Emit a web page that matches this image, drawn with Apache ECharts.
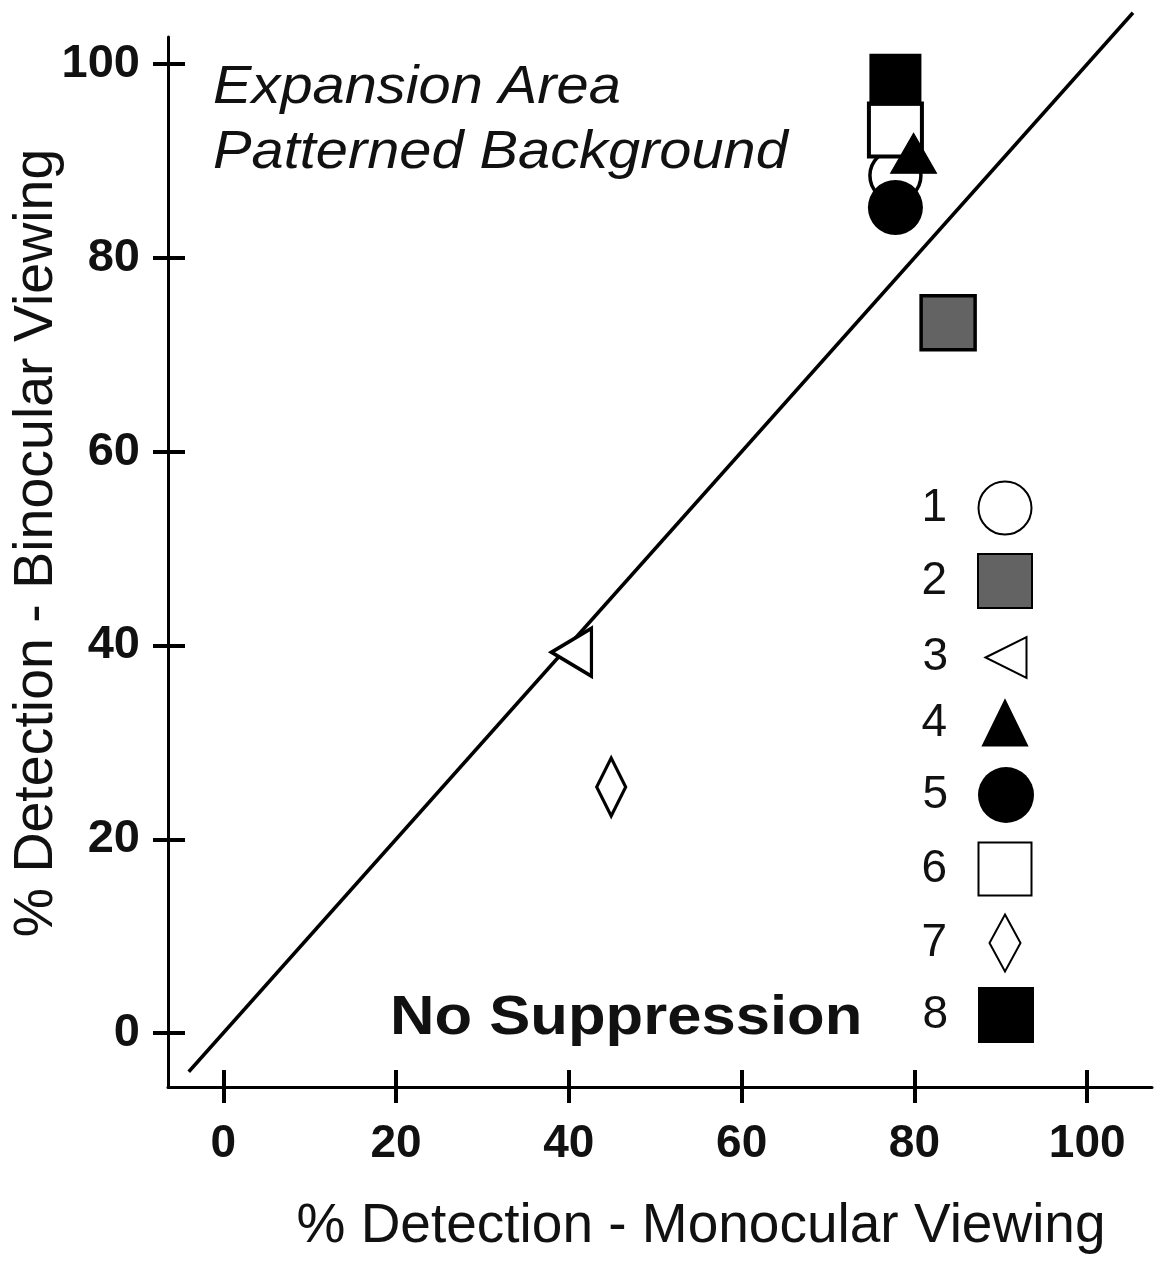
<!DOCTYPE html>
<html>
<head>
<meta charset="utf-8">
<title>% Detection - Binocular vs Monocular Viewing</title>
<script src="https://cdn.jsdelivr.net/npm/echarts@6/dist/echarts.min.js"></script>
<style>
  html, body { margin: 0; padding: 0; background: #fff; }
  #chart { width: 1157px; height: 1264px; }
</style>
</head>
<body>
<div id="chart"></div>
<script>
// Observers / conditions shown in the legend
const seriesNames = ['1', '2', '3', '4', '5', '6', '7', '8'];
// % detection, monocular viewing (x)
const monocular = [77.8, 83.9, 40.3, 79.9, 77.8, 77.8, 44.9, 77.8];
// % detection, binocular viewing (y)
const binocular = [88.5, 73.3, 39.3, 90.8, 85.2, 93.2, 25.4, 98.4];
// Axis tick values
const tickValues = [0, 20, 40, 60, 80, 100];
// Equality (no suppression) line end points
const diagonal = [[-4, -4], [105.3, 105.3]];

const FONT = '"Liberation Sans", Arial, Helvetica, sans-serif';
const INK = '#000';

// Marker style for each series
const markerStyles = [
  { symbol: 'circle', size: 51, fill: '#fff', border: 3.5, z: 2, legend: [53, 53] },
  { symbol: 'rect', size: 54, fill: '#636363', border: 3.5, z: 2, legend: [54, 54] },
  { symbol: 'path://M0,5L10,0L10,10Z', size: [40, 48], fill: '#fff', border: 3.5, z: 2, legend: [43, 41] },
  { symbol: 'triangle', size: [46, 40], fill: '#000', border: 1, z: 4, legend: [44, 45] },
  { symbol: 'circle', size: 55, fill: '#000', border: 0, z: 4, legend: [56, 56] },
  { symbol: 'rect', size: 53, fill: '#fff', border: 4, z: 3, legend: [53, 53] },
  { symbol: 'diamond', size: [29, 58], fill: '#fff', border: 3.5, z: 2, legend: [31, 57] },
  { symbol: 'rect', size: 52, fill: '#000', border: 0, z: 3, legend: [56, 56] }
];

// Legend row placement (icon centres, right edge of the number column)
const legendIconCenterX = 1006;
const legendTextRight = 948;
const legendRowCenters = [507, 580, 655, 722, 795, 868, 942, 1015];

const chart = echarts.init(document.getElementById('chart'), null, { renderer: 'canvas' });

const scatterSeries = seriesNames.map((name, i) => {
  const st = markerStyles[i];
  return {
    name: name,
    type: 'scatter',
    xAxisIndex: 0,
    yAxisIndex: 0,
    symbol: st.symbol,
    symbolSize: st.size,
    z: st.z,
    itemStyle: {
      color: st.fill,
      borderColor: INK,
      borderWidth: st.border,
      opacity: 1
    },
    emphasis: { disabled: true },
    data: [[monocular[i], binocular[i]]]
  };
});

const legends = seriesNames.map((name, i) => {
  const [w, h] = markerStyles[i].legend;
  const iconLeft = legendIconCenterX - w / 2;
  return {
    data: [name],
    orient: 'horizontal',
    align: 'right',
    selectedMode: false,
    padding: 5,
    itemWidth: w,
    itemHeight: h,
    right: 1157 - (legendIconCenterX + w / 2) - 5,
    top: legendRowCenters[i] - h / 2 - 5,
    textStyle: {
      fontFamily: FONT,
      fontSize: 46,
      color: '#111',
      lineHeight: 20,
      padding: [0, iconLeft - 5 - legendTextRight, 0, 0]
    }
  };
});

const xBase = {
  type: 'value',
  min: -6.4,
  max: 107.5,
  gridIndex: 0,
  splitLine: { show: false }
};
const yBase = {
  type: 'value',
  min: -5.57,
  max: 102.8,
  gridIndex: 0,
  splitLine: { show: false }
};

const option = {
  animation: false,
  backgroundColor: '#fff',
  legend: legends,
  grid: {
    left: 168, right: 5, top: 37, bottom: 177,
    containLabel: false,
    outerBoundsMode: 'none'
  },
  xAxis: [
    Object.assign({}, xBase, {
      position: 'bottom',
      name: '% Detection - Monocular Viewing',
      nameLocation: 'middle',
      nameGap: 112,
      nameTextStyle: { fontFamily: FONT, fontSize: 55, color: '#111', padding: [0, 0, 0, 82] },
      axisLine: { show: true, onZero: false, lineStyle: { color: INK, width: 3 } },
      axisTick: { show: true, inside: false, length: 16, customValues: tickValues, lineStyle: { color: INK, width: 4 } },
      axisLabel: {
        show: true, customValues: tickValues, margin: 34,
        fontFamily: FONT, fontSize: 46, fontWeight: 'bold', color: '#111'
      }
    }),
    Object.assign({}, xBase, {
      position: 'bottom',
      axisLine: { show: false, onZero: false },
      axisTick: { show: true, inside: true, length: 17, customValues: tickValues, lineStyle: { color: INK, width: 4 } },
      axisLabel: { show: false }
    })
  ],
  yAxis: [
    Object.assign({}, yBase, {
      position: 'left',
      name: '% Detection - Binocular Viewing',
      nameLocation: 'middle',
      nameGap: 103,
      nameRotate: 90,
      nameMoveOverlap: false,
      nameTextStyle: { fontFamily: FONT, fontSize: 55.5, color: '#111', padding: [0, 0, 0, 38] },
      axisLine: { show: true, onZero: false, lineStyle: { color: INK, width: 3 } },
      axisTick: { show: true, inside: false, length: 15, customValues: tickValues, lineStyle: { color: INK, width: 4 } },
      axisLabel: {
        show: true, customValues: tickValues, margin: 28,
        fontFamily: FONT, fontSize: 47, fontWeight: 'bold', color: '#111'
      }
    }),
    Object.assign({}, yBase, {
      position: 'left',
      axisLine: { show: false, onZero: false },
      axisTick: { show: true, inside: true, length: 17, customValues: tickValues, lineStyle: { color: INK, width: 4 } },
      axisLabel: { show: false }
    })
  ],
  graphic: [
    {
      type: 'text', left: 213, top: 62, scaleX: 1.09, silent: true,
      style: { text: 'Expansion Area', font: 'italic 53px ' + FONT, fill: '#111' }
    },
    {
      type: 'text', left: 213, top: 127, scaleX: 1.09, silent: true,
      style: { text: 'Patterned Background', font: 'italic 53px ' + FONT, fill: '#111' }
    },
    {
      type: 'text', left: 390, top: 991, scaleX: 1.1, silent: true,
      style: { text: 'No Suppression', font: 'bold 56px ' + FONT, fill: '#111' }
    }
  ],
  series: [
    {
      name: 'equality',
      type: 'line',
      xAxisIndex: 0,
      yAxisIndex: 0,
      data: diagonal,
      showSymbol: false,
      symbol: 'none',
      clip: false,
      silent: true,
      z: 1,
      lineStyle: { color: INK, width: 3.5 }
    }
  ].concat(scatterSeries)
};

chart.setOption(option);
</script>
</body>
</html>
